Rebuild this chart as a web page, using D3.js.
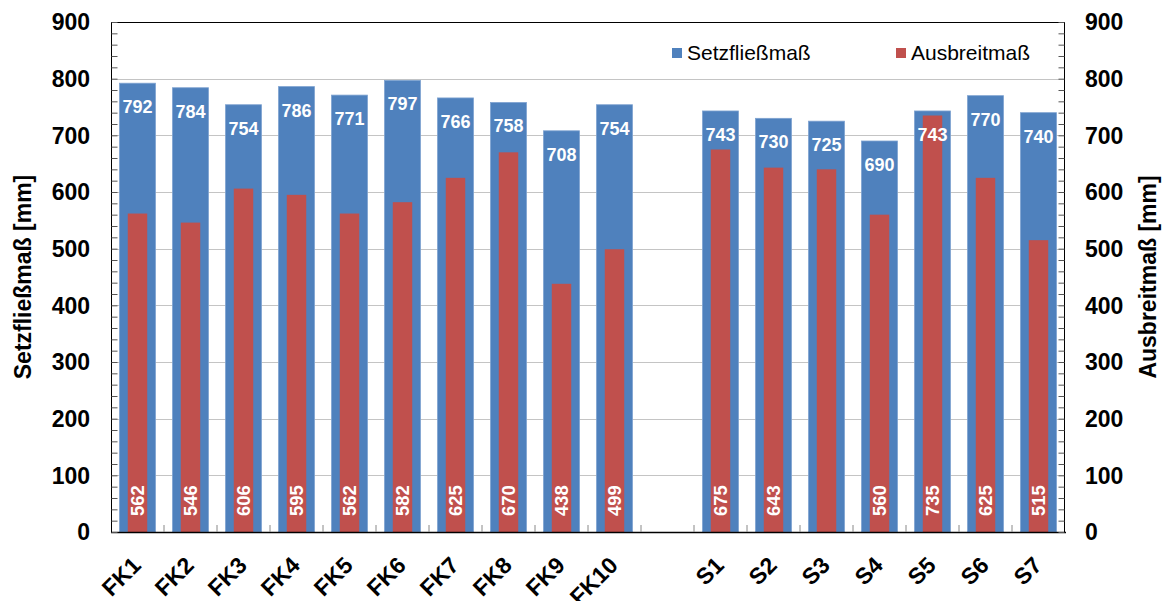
<!DOCTYPE html>
<html>
<head>
<meta charset="utf-8">
<script src="https://cdn.jsdelivr.net/npm/d3@7"></script>
<style>
  html, body { margin: 0; padding: 0; background: #fff; }
  svg { display: block; font-family: "Liberation Sans", Arial, Helvetica, sans-serif; }
</style>
</head>
<body>
<svg id="chart" width="1165" height="601"></svg>
<script>
// Mixtures: FK series, an empty gap slot, then S series
const categories = ["FK1","FK2","FK3","FK4","FK5","FK6","FK7","FK8","FK9","FK10","",
                    "S1","S2","S3","S4","S5","S6","S7"];
// Setzfließmaß [mm] (left axis)
const setzfliessmass = [792,784,754,786,771,797,766,758,708,754,null,
                        743,730,725,690,743,770,740];
// Ausbreitmaß [mm] (right axis)
const ausbreitmass = [562,546,606,595,562,582,625,670,438,499,null,
                      675,643,640,560,735,625,515];
// Ausbreitmaß bars drawn without a value label
const unlabeledAusbreit = ["S3"];
const yTicks = [0,100,200,300,400,500,600,700,800,900];
const seriesNames = ["Setzfließmaß", "Ausbreitmaß"];

const BLUE = "#4F81BD", RED = "#C0504D";
const margin = { left: 111, right: 100, top: 22, bottom: 69 };
const W = 1165, H = 601;
const svg = d3.select("#chart");

const x = d3.scaleBand()
  .domain(categories.map((c, i) => i))
  .range([margin.left, W - margin.right])
  .paddingInner(0.32).paddingOuter(0.16);
const y = d3.scaleLinear().domain([0, 900]).range([H - margin.bottom, margin.top]);
const y2 = d3.scaleLinear().domain([0, 900]).range([H - margin.bottom, margin.top]);

const x0 = margin.left, x1 = W - margin.right, yb = H - margin.bottom, yt = margin.top;
const step = x.step();

// gridlines
svg.append("g").selectAll("line").data(yTicks.filter(t => t > 0 && t < 900)).join("line")
  .attr("x1", x0).attr("x2", x1)
  .attr("y1", d => Math.round(y(d)) + 0.5).attr("y2", d => Math.round(y(d)) + 0.5)
  .attr("stroke", "#c4c4c4").attr("stroke-width", 1);

// Setzfließmaß bars
const idx = categories.map((c, i) => i).filter(i => setzfliessmass[i] != null);
svg.append("g").selectAll("rect").data(idx).join("rect")
  .attr("x", i => x(i)).attr("width", x.bandwidth())
  .attr("y", i => y(setzfliessmass[i])).attr("height", i => yb - y(setzfliessmass[i]))
  .attr("fill", BLUE).attr("stroke", "#7fa3d1").attr("stroke-width", 0.8);

// Ausbreitmaß bars
const rw = x.bandwidth() * 0.54;
svg.append("g").selectAll("rect").data(idx).join("rect")
  .attr("x", i => x(i) + (x.bandwidth() - rw) / 2).attr("width", rw)
  .attr("y", i => y2(ausbreitmass[i])).attr("height", i => yb - y2(ausbreitmass[i]))
  .attr("fill", RED);

// value labels on the blue bars
svg.append("g").selectAll("text").data(idx).join("text")
  .attr("x", i => x(i) + x.bandwidth() / 2)
  .attr("y", i => y(setzfliessmass[i]) + 30)
  .attr("text-anchor", "middle").attr("fill", "#fff")
  .attr("font-size", 18).attr("font-weight", "bold")
  .text(i => setzfliessmass[i]);

// rotated value labels on the red bars
svg.append("g").selectAll("text")
  .data(idx.filter(i => !unlabeledAusbreit.includes(categories[i]))).join("text")
  .attr("transform", i => `translate(${x(i) + x.bandwidth() / 2},${yb - 16}) rotate(-90)`)
  .attr("dy", "0.36em")
  .attr("text-anchor", "start").attr("fill", "#fff")
  .attr("font-size", 18.5).attr("font-weight", "bold")
  .text(i => ausbreitmass[i]);

// plot frame
svg.append("rect").attr("x", x0 + 0.5).attr("y", yt + 0.5)
  .attr("width", x1 - x0 - 1).attr("height", yb - yt)
  .attr("fill", "none").attr("stroke", "#000").attr("stroke-width", 1);
svg.append("line").attr("x1", x0).attr("x2", x1 + 1).attr("y1", yb + 0.5).attr("y2", yb + 0.5)
  .attr("stroke", "#000").attr("stroke-width", 1.6);

// left axis
const leftAxis = d3.axisRight(y).tickValues(d3.range(0, 901, 20)).tickSize(6).tickFormat("");
const gl = svg.append("g").attr("transform", `translate(${x0 + 0.5},0)`).call(leftAxis);
gl.select(".domain").remove();
gl.selectAll(".tick line").attr("stroke", "#555");
svg.append("g").selectAll("text").data(yTicks).join("text")
  .attr("x", 90).attr("y", d => y(d)).attr("dy", "0.36em")
  .attr("text-anchor", "end").attr("font-size", 23).attr("font-weight", "bold")
  .text(d => d);

// right axis
const rightAxis = d3.axisLeft(y2).tickValues(d3.range(0, 901, 20)).tickSize(6).tickFormat("");
const gr = svg.append("g").attr("transform", `translate(${x1 - 0.5},0)`).call(rightAxis);
gr.select(".domain").remove();
gr.selectAll(".tick line").attr("stroke", "#555");
svg.append("g").selectAll("text").data(yTicks).join("text")
  .attr("x", 1085).attr("y", d => y2(d)).attr("dy", "0.36em")
  .attr("text-anchor", "start").attr("font-size", 23).attr("font-weight", "bold")
  .text(d => d);

// category ticks between slots
svg.append("g").selectAll("line").data(d3.range(1, categories.length)).join("line")
  .attr("x1", i => x0 + i * step).attr("x2", i => x0 + i * step)
  .attr("y1", yb).attr("y2", yb - 7)
  .attr("stroke", "#888").attr("stroke-width", 1);

// category labels
svg.append("g").selectAll("text").data(idx).join("text")
  .attr("transform", i => `translate(${x(i) + x.bandwidth() / 2 - 7},${yb + 23}) rotate(-45)`)
  .attr("dy", "0.72em")
  .attr("text-anchor", "end").attr("font-size", 23).attr("font-weight", "bold")
  .text(i => categories[i]);

// axis titles
svg.append("text").attr("transform", "translate(31,277) rotate(-90)")
  .attr("text-anchor", "middle").attr("font-size", 23).attr("font-weight", "bold")
  .text("Setzfließmaß [mm]");
svg.append("text").attr("transform", "translate(1156,277) rotate(-90)")
  .attr("text-anchor", "middle").attr("font-size", 23).attr("font-weight", "bold")
  .text("Ausbreitmaß [mm]");

// legend
const legend = svg.append("g");
[[672, BLUE, seriesNames[0]], [896, RED, seriesNames[1]]].forEach(([lx, col, name]) => {
  legend.append("rect").attr("x", lx).attr("y", 48).attr("width", 10).attr("height", 10).attr("fill", col);
  legend.append("text").attr("x", lx + 15).attr("y", 60).attr("font-size", 21).text(name);
});
</script>
</body>
</html>
